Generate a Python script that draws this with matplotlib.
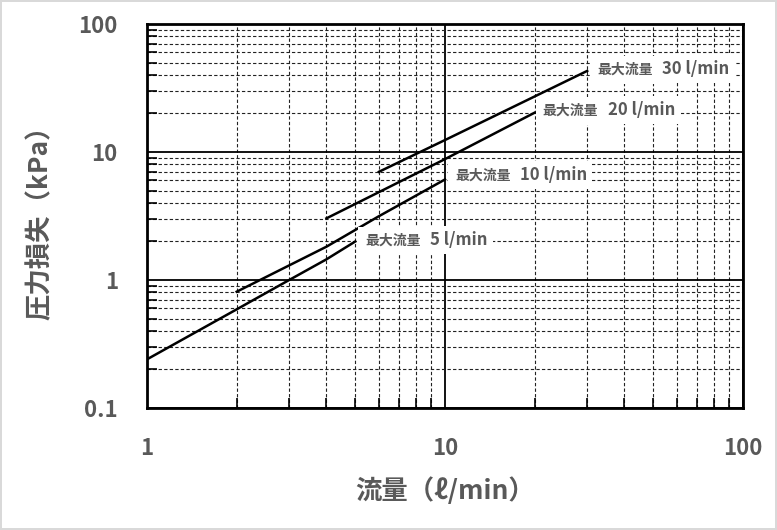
import matplotlib
matplotlib.use("Agg")
import matplotlib.pyplot as plt
from matplotlib.ticker import FixedLocator, NullFormatter, LogLocator

plt.rcParams['font.family'] = ['Noto Sans CJK JP', 'DejaVu Sans']

# flow (l/min) vs pressure loss (kPa), one curve per max-flow model
flow_5 = [1, 2, 3, 4, 5]
loss_5 = [0.24, 0.59, 1.0, 1.45, 2.0]
flow_10 = [2, 4, 6, 10]
loss_10 = [0.81, 1.82, 3.15, 6.1]
flow_20 = [4, 10, 20]
loss_20 = [3.03, 8.8, 20.3]
flow_30 = [6, 10, 30]
loss_30 = [7.0, 12.4, 43.0]

names = ["5 l/min", "10 l/min", "20 l/min", "30 l/min"]
label_xy = [(5.39, 2.02), (10.8, 6.49), (21.3, 20.9), (32.4, 43.8)]

xticks = [1, 10, 100]
yticks = [0.1, 1, 10, 100]

GRAY = "#595959"

fig = plt.figure(figsize=(7.77, 5.30), dpi=100)
fig.patch.set_edgecolor("#d9d9d9")
fig.patch.set_linewidth(1.5)
ax = fig.add_axes([147 / 777, 1 - 408 / 530, 596 / 777, 384 / 530])
ax.set_xscale("log")
ax.set_yscale("log")
ax.set_xlim(1, 100)
ax.set_ylim(0.1, 100)

ax.xaxis.set_major_locator(FixedLocator(xticks))
ax.yaxis.set_major_locator(FixedLocator(yticks))
ax.set_xticklabels([f"{v:g}" for v in xticks])
ax.set_yticklabels([f"{v:g}" for v in yticks])
ax.xaxis.set_minor_locator(LogLocator(base=10, subs=range(2, 10)))
ax.yaxis.set_minor_locator(LogLocator(base=10, subs=range(2, 10)))
ax.xaxis.set_minor_formatter(NullFormatter())
ax.yaxis.set_minor_formatter(NullFormatter())

ax.grid(which="major", color="black", lw=1.3, ls="-")
ax.grid(which="minor", color="#222222", lw=0.8, ls=(0, (3, 2)))
ax.set_axisbelow(True)
ax.tick_params(which="both", direction="in", length=7, width=1.2, color="black")
ax.tick_params(which="major", length=0, pad=21, labelsize=16, labelcolor=GRAY)
for t in ax.get_xticklabels() + ax.get_yticklabels():
    t.set_fontweight("bold")
for s in ax.spines.values():
    s.set_linewidth(2)
    s.set_color("black")

for xs, ys in [(flow_5, loss_5), (flow_10, loss_10), (flow_20, loss_20), (flow_30, loss_30)]:
    ax.plot(xs, ys, color="black", lw=1.8, zorder=3)

for name, (lx, ly) in zip(names, label_xy):
    ax.annotate("最大流量", (lx, ly), ha="left", va="center", fontsize=10,
                fontweight="bold", color=GRAY, zorder=4,
                bbox=dict(facecolor="white", edgecolor="none",
                          boxstyle="square,pad=0.5"))
    ax.annotate(name, (lx, ly), xytext=(47, 1), textcoords="offset points",
                ha="left", va="center", fontsize=12, fontweight="bold",
                color=GRAY, zorder=4,
                bbox=dict(facecolor="white", edgecolor="none",
                          boxstyle="square,pad=0.3"))

ax.set_xlabel("流量（ℓ/min）", fontsize=19, fontweight="bold", color=GRAY, labelpad=12)
ax.set_ylabel("圧力損失（kPa）", fontsize=19, fontweight="bold", color=GRAY, labelpad=18)

fig.savefig("out.png", dpi=100)
